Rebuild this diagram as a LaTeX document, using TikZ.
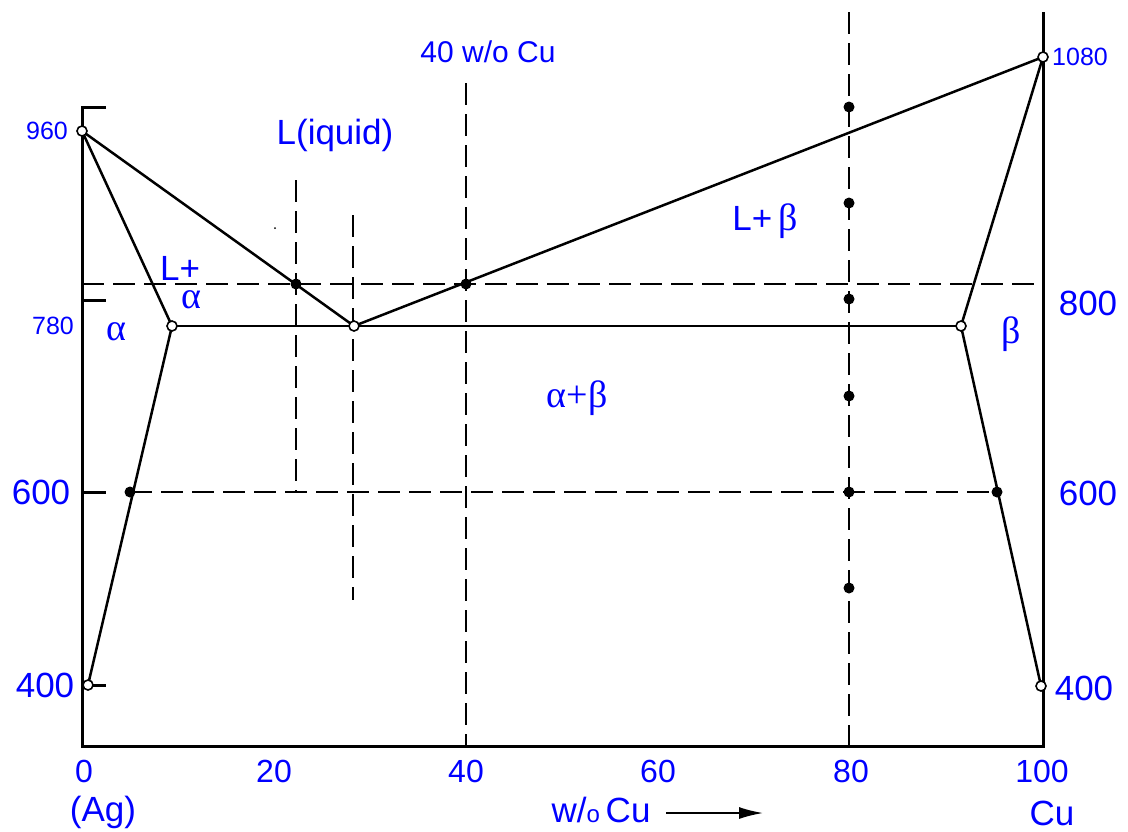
\documentclass[tikz,border=0pt]{standalone}
\usepackage{fontspec}
\setmainfont{Liberation Sans}
\newfontfamily\grk{Liberation Serif}
\usetikzlibrary{arrows.meta}
\begin{document}
\begin{tikzpicture}[x=0.5pt,y=-0.5pt,
  curve/.style={line width=1.25pt},
  axisline/.style={line width=1.5pt},
  guide/.style={line width=0.6pt,dash pattern=on 11pt off 4.5pt},
  opendot/.style={circle,draw,fill=white,line width=0.8pt,inner sep=0pt,minimum size=5pt},
  fulldot/.style={circle,fill=black,inner sep=0pt,minimum size=5.5pt},
  lbl/.style={text=blue,inner sep=0pt},
  smalllbl/.style={lbl,font=\fontsize{12.5}{15}\selectfont},
  biglbl/.style={lbl,font=\fontsize{17.5}{20}\selectfont},
  ticklbl/.style={lbl,font=\fontsize{16}{19}\selectfont},
  greeklbl/.style={lbl,font=\grk\fontsize{19}{22}\selectfont}
]
\useasboundingbox (0,0) rectangle (1128,831);

% key points
\coordinate (Ag960) at (82,131);
\coordinate (aMax) at (172,326);
\coordinate (eut) at (354,326);
\coordinate (bMax) at (961,326);
\coordinate (Cu1080) at (1043,57);
\coordinate (Ag400) at (88,685);
\coordinate (Cu400) at (1041,686);
\coordinate (liqA) at (296,284);
\coordinate (liqB) at (466,284);
\coordinate (solA) at (130,492);
\coordinate (solB) at (997,492);

% axes
\draw[axisline] (106,107) -- (82,107) -- (82,746) -- (1043,746) -- (1043,12);
\foreach \yy in {300,492,685} \draw[axisline] (82,\yy) -- (106,\yy);

% guide lines
\draw[guide] (82,284) -- (1043,284);
\draw[guide] (solA) -- (solB);
\draw[guide] (296,180) -- (296,492);
\draw[guide] (353,215) -- (353,600);
\draw[guide] (466,83) -- (466,746);
\draw[guide] (849,12) -- (849,746);

% phase boundaries
\draw[curve] (Ag960) -- (eut);
\draw[curve] (Ag960) -- (aMax);
\draw[curve] (aMax) -- (Ag400);
\draw[curve] (eut) -- (Cu1080);
\draw[curve] (Cu1080) -- (bMax);
\draw[curve] (bMax) -- (Cu400);
\draw[curve] (aMax) -- (bMax);

% dots
\node[opendot] (n960) at (Ag960) {};
\node[opendot] (naMax) at (aMax) {};
\node[opendot] (neut) at (eut) {};
\node[opendot] (nbMax) at (bMax) {};
\node[opendot] (n1080) at (Cu1080) {};
\node[opendot] (nAg400) at (Ag400) {};
\node[opendot] (nCu400) at (Cu400) {};
\node[fulldot] (nliqA) at (liqA) {};
\node[fulldot] (nliqB) at (liqB) {};
\node[fulldot] (nsolA) at (solA) {};
\node[fulldot] (nsolB) at (solB) {};
\foreach \yy [count=\i] in {107,203,299,396,492,588}
  \node[fulldot] (v\i) at (849,\yy) {};
\fill (275,228) circle (0.5pt);

% y labels
\node[smalllbl] (t960) at (47,131) {960};
\node[smalllbl] (t780) at (53,326) {780};
\node[biglbl] (t600l) at (41,492) {600};
\node[biglbl] (t400l) at (45,685) {400};
\node[smalllbl] (t1080) at (1080,57) {1080};
\node[biglbl] (t800r) at (1088,303) {800};
\node[biglbl] (t600r) at (1088,493) {600};
\node[biglbl] (t400r) at (1084,688) {400};

% x labels
\node[ticklbl] (x0) at (84,771) {0};
\node[ticklbl] (x20) at (274,771) {20};
\node[ticklbl] (x40) at (466,771) {40};
\node[ticklbl] (x60) at (658,771) {60};
\node[ticklbl] (x80) at (851,771) {80};
\node[ticklbl] (x100) at (1042,771) {100};
\node[biglbl] (tAg) at (103,812) {(Ag)};
\node[biglbl] (tCu) at (1052,813) {Cu};
\node[biglbl] (twCu) at (601,810) {w/{\fontsize{12}{14}\selectfont o}\,Cu};
\coordinate (arrS) at (666,813);
\coordinate (arrE) at (763,813);
\draw[line width=0.8pt,-{Latex[length=12pt,width=6pt]}] (arrS) -- (arrE);

% region labels
\node[lbl,font=\fontsize{15}{18}\selectfont] (t40) at (488,52) {40 w/o Cu};
\node[lbl,font=\fontsize{17.5}{20}\selectfont] (tL) at (335,135) {L(iquid)};
\node[biglbl] (tLp) at (180,268) {L+};
\node[greeklbl] (ta1) at (191,300) {α};
\node[greeklbl] (ta2) at (116,332) {α};
\node[biglbl] (tLb) at (765,221) {L+\,{\grk\fontsize{19}{22}\selectfont β}};
\node[greeklbl] (tab) at (577,398) {α+β};
\node[greeklbl] (tb) at (1011,334) {β};
\end{tikzpicture}
\end{document}
